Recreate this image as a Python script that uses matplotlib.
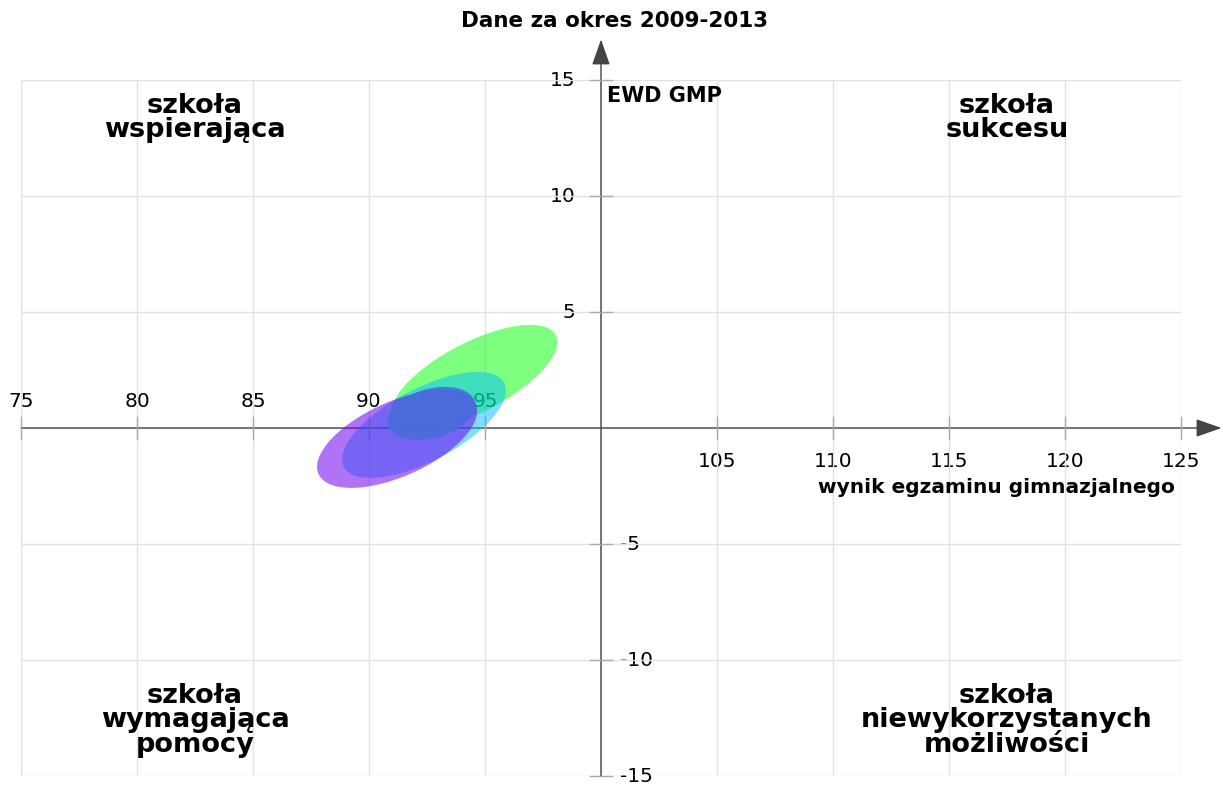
import matplotlib.pyplot as plt
from matplotlib.patches import Ellipse

# data
x_ticks = [75, 80, 85, 90, 95, 100, 105, 110, 115, 120, 125]
y_ticks = [-15, -10, -5, 0, 5, 10, 15]

# ellipses: center x, center y, width, height, angle
ell_x = [94.53, 92.37, 91.21, 92.69]
ell_y = [2.18, 0.13, -0.47, 0.63]
ell_w = [7.93, 7.81, 7.42, 3.88]
ell_h = [3.02, 3.13, 3.22, 2.13]
ell_ang = [27.4, 27.7, 24.1, 14.8]
ell_colors = ['#00ff00', '#00bfff', '#7000ee', '#4a6cdc']
ell_alpha = [0.5, 0.5, 0.55, 0.9]

quad_labels = ['szkoła\nwspierająca', 'szkoła\nsukcesu',
               'szkoła\nwymagająca\npomocy', 'szkoła\nniewykorzystanych\nmożliwości']
quad_x = [82.5, 117.5, 82.5, 117.5]
quad_y = [13.35, 13.35, -12.6, -12.6]

W, H = 1224, 785
fig = plt.figure(figsize=(W / 100, H / 100), dpi=100)
ax = fig.add_axes([21 / W, 9 / H, 1160 / W, 696 / H])
ax.set_xlim(75, 125)
ax.set_ylim(-15, 15)
ax.set_xticks(x_ticks)
ax.set_yticks(y_ticks)
ax.grid(color='#e2e2e2', lw=1)
ax.tick_params(length=0, labelbottom=False, labelleft=False)
for s in ax.spines.values():
    s.set_visible(False)

arrow = dict(arrowstyle='-|>,head_length=0.8,head_width=0.28', color='#444444',
             lw=1, shrinkA=0, shrinkB=0, mutation_scale=20)
ax.annotate('', xy=(126.75, 0), xytext=(75, 0), arrowprops=arrow,
            annotation_clip=False, zorder=2)
ax.annotate('', xy=(100, 16.75), xytext=(100, -15), arrowprops=arrow,
            annotation_clip=False, zorder=2)

tk = 0.47
for x in x_ticks:
    if x == 100:
        continue
    ax.plot([x, x], [-tk, tk], color='#aaaaaa', lw=1, zorder=2, clip_on=False)
    if x < 100:
        ax.text(x, 1.15, str(x), ha='center', va='center', fontsize=14.5, zorder=1)
    else:
        ax.text(x, -1.45, str(x), ha='center', va='center', fontsize=14.5, zorder=1)
for y in y_ticks:
    if y == 0:
        continue
    ax.plot([100 - tk, 100 + tk], [y, y], color='#aaaaaa', lw=1, zorder=2, clip_on=False)
    if y > 0:
        ax.text(98.9, y, str(y), ha='right', va='center', fontsize=14.5, zorder=1)
    else:
        ax.text(100.8, y, str(y), ha='left', va='center', fontsize=14.5, zorder=1)

for i in range(len(ell_x)):
    e = Ellipse((ell_x[i], ell_y[i]), ell_w[i], ell_h[i], angle=ell_ang[i],
                facecolor=ell_colors[i], alpha=ell_alpha[i], edgecolor='none', zorder=5)
    ax.add_patch(e)

for lab, qx, qy in zip(quad_labels, quad_x, quad_y):
    ax.text(qx, qy, lab, ha='center', va='center', fontsize=19.5, fontweight='bold',
            linespacing=0.92)

ax.text(100.25, 14.3, 'EWD GMP', ha='left', va='center', fontsize=15, fontweight='bold')
ax.text(124.75, -2.55, 'wynik egzaminu gimnazjalnego', ha='right', va='center',
        fontsize=14.5, fontweight='bold')
fig.text(615 / W, 1 - 21 / H, 'Dane za okres 2009-2013', ha='center', va='center',
         fontsize=15.5, fontweight='bold')

fig.savefig('out.png', dpi=100)
